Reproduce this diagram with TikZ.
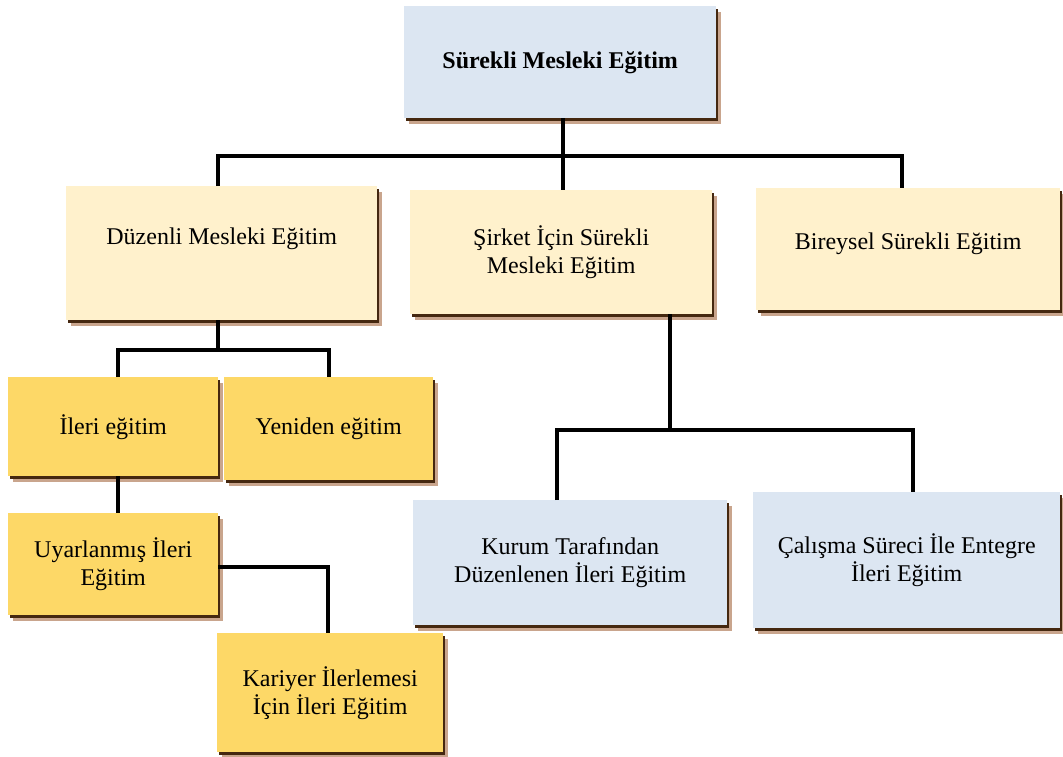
\documentclass[tikz,border=0pt]{standalone}
\usepackage{fontspec}
\setmainfont{Liberation Serif}
\usetikzlibrary{shadows}
\definecolor{boxblue}{HTML}{DCE6F2}
\definecolor{boxcream}{HTML}{FFF1CC}
\definecolor{boxyellow}{HTML}{FDD867}
\definecolor{shadowtan}{HTML}{C9A58D}
\definecolor{shadowdark}{HTML}{452810}
\tikzset{
  box/.style={anchor=north west, inner sep=0pt, align=center,
    font=\fontsize{24}{28}\selectfont,
    general shadow={shadow xshift=5pt, shadow yshift=-6pt, fill=shadowtan},
    general shadow={shadow xshift=2pt, shadow yshift=-3pt, fill=shadowdark}},
  conn/.style={line width=4pt, draw=black}
}
\begin{document}
\begin{tikzpicture}[x=1pt,y=-1pt]
\useasboundingbox (0,0) rectangle (1063,756);

% root
\node[box, fill=boxblue, minimum width=312pt, minimum height=112pt,
      font=\fontsize{24}{28}\selectfont\bfseries] (top) at (404,6) {Sürekli Mesleki Eğitim};

% second level
\node[box, fill=boxcream, minimum width=311pt, minimum height=134pt, text depth=34pt]
  (duz) at (66,186) {Düzenli Mesleki Eğitim};
\node[box, fill=boxcream, minimum width=302pt, minimum height=124pt]
  (sir) at (410,190) {Şirket İçin Sürekli\\Mesleki Eğitim};
\node[box, fill=boxcream, minimum width=304pt, minimum height=122pt, text depth=17pt]
  (bir) at (756,188) {Bireysel Sürekli Eğitim};

% regular training branch
\node[box, fill=boxyellow, minimum width=210pt, minimum height=99pt]
  (ile) at (8,377) {İleri eğitim};
\node[box, fill=boxyellow, minimum width=209pt, minimum height=103pt]
  (yen) at (224,377) {Yeniden eğitim};
\node[box, fill=boxyellow, minimum width=210pt, minimum height=102pt]
  (uya) at (8,513) {Uyarlanmış İleri\\Eğitim};
\node[box, fill=boxyellow, minimum width=226pt, minimum height=119pt]
  (kar) at (217,633) {Kariyer İlerlemesi\\İçin İleri Eğitim};

% company branch
\node[box, fill=boxblue, minimum width=314pt, minimum height=125pt]
  (kur) at (413,500) {Kurum Tarafından\\Düzenlenen İleri Eğitim};
\node[box, fill=boxblue, minimum width=307pt, minimum height=136pt]
  (cal) at (753,492) {Çalışma Süreci İle Entegre\\İleri Eğitim};

% connectors
\coordinate (bus1) at (563,156);
\coordinate (bus2) at (218,350);
\coordinate (bus3) at (670,430);

\draw[conn] (top.south -| bus1) -- (sir.north -| bus1);
\draw[conn] ([xshift=-3.5pt]duz.north) |- (bus1) -| ([xshift=-6pt]bir.north);

\draw[conn] (duz.south -| bus2) -- (bus2);
\draw[conn] ([xshift=5pt]ile.north) |- (bus2) -| (yen.north);
\draw[conn] ([xshift=5pt]ile.south) -- ([xshift=5pt]uya.north);
\draw[conn] ([yshift=-3pt]uya.east) -| ([xshift=-2pt]kar.north);

\draw[conn] (sir.south -| bus3) -- (bus3);
\draw[conn] ([xshift=-13pt]kur.north) |- (bus3) -| ([xshift=6.5pt]cal.north);
\end{tikzpicture}
\end{document}
